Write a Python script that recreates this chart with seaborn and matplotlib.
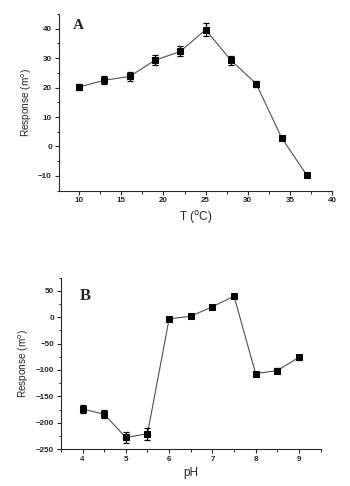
import numpy as np
import pandas as pd
import matplotlib
matplotlib.use("Agg")
import matplotlib.pyplot as plt
from matplotlib.ticker import MultipleLocator
import seaborn as sns

sns.set_style("ticks")
plt.rcParams['font.family'] = ['Liberation Sans', 'DejaVu Sans']

# panel A: temperature
temp = [10, 13, 16, 19, 22, 25, 28, 31, 34, 37]
resp_t = [20.2, 22.5, 23.8, 29.3, 32.3, 39.7, 29.3, 21.3, 3.0, -9.8]
err_t = [1.0, 1.3, 1.5, 1.7, 1.7, 2.2, 1.5, 1.0, 0.5, 0.3]

# panel B: pH
ph = [4, 4.5, 5, 5.5, 6, 6.5, 7, 7.5, 8, 8.5, 9]
resp_p = [-174, -184, -228, -221, -3, 2, 20, 40, -107, -101, -76]
err_p = [8, 8, 10, 11, 2, 2, 2, 2, 3, 5, 5]

df_t = pd.DataFrame({"x": temp, "y": resp_t, "e": err_t})
df_p = pd.DataFrame({"x": ph, "y": resp_p, "e": err_p})

fig = plt.figure(figsize=(3.5, 4.86), dpi=100)
axA = fig.add_axes([0.168, 0.608, 0.781, 0.363])
axB = fig.add_axes([0.174, 0.076, 0.742, 0.3525])

def draw(ax, df):
    sns.lineplot(data=df, x="x", y="y", ax=ax, color="#505050", lw=0.8,
                 marker="s", markersize=4, markerfacecolor="black",
                 markeredgecolor="black")
    ax.errorbar(df["x"], df["y"], yerr=df["e"], fmt="none", ecolor="black",
                elinewidth=0.9, capsize=2.2, capthick=0.9)
    sns.despine(ax=ax)
    ax.tick_params(which="major", length=3, width=0.8, labelsize=5.8, pad=2)
    ax.tick_params(which="minor", length=1.8, width=0.7)
    for s in ("left", "bottom"):
        ax.spines[s].set_linewidth(0.8)

draw(axA, df_t)
axA.set_xlim(7.6, 40)
axA.set_ylim(-15, 45)
axA.xaxis.set_major_locator(MultipleLocator(5))
axA.xaxis.set_minor_locator(MultipleLocator(2.5))
axA.yaxis.set_major_locator(MultipleLocator(10))
axA.yaxis.set_minor_locator(MultipleLocator(5))
axA.set_xlabel("T ($^{\\rm o}$C)", fontsize=8.5, labelpad=3)
axA.set_ylabel("Response (m$^{\\rm o}$)", fontsize=7.2, labelpad=3)
axA.text(0.052, 0.915, "A", transform=axA.transAxes, fontsize=11,
         fontweight="bold", family=["Liberation Serif", "DejaVu Serif"])
for lab in axA.get_xticklabels() + axA.get_yticklabels():
    lab.set_fontweight("bold")

draw(axB, df_p)
axB.set_xlim(3.5, 9.5)
axB.set_ylim(-250, 75)
axB.xaxis.set_major_locator(MultipleLocator(1))
axB.xaxis.set_minor_locator(MultipleLocator(0.5))
axB.yaxis.set_major_locator(MultipleLocator(50))
axB.yaxis.set_minor_locator(MultipleLocator(25))
axB.set_xlabel("pH", fontsize=8.5, labelpad=3)
axB.set_ylabel("Response (m$^{\\rm o}$)", fontsize=7.2, labelpad=3)
axB.text(0.073, 0.872, "B", transform=axB.transAxes, fontsize=12,
         fontweight="bold", family=["Liberation Serif", "DejaVu Serif"])
for lab in axB.get_xticklabels() + axB.get_yticklabels():
    lab.set_fontweight("bold")

fig.savefig("out.png", dpi=100)
